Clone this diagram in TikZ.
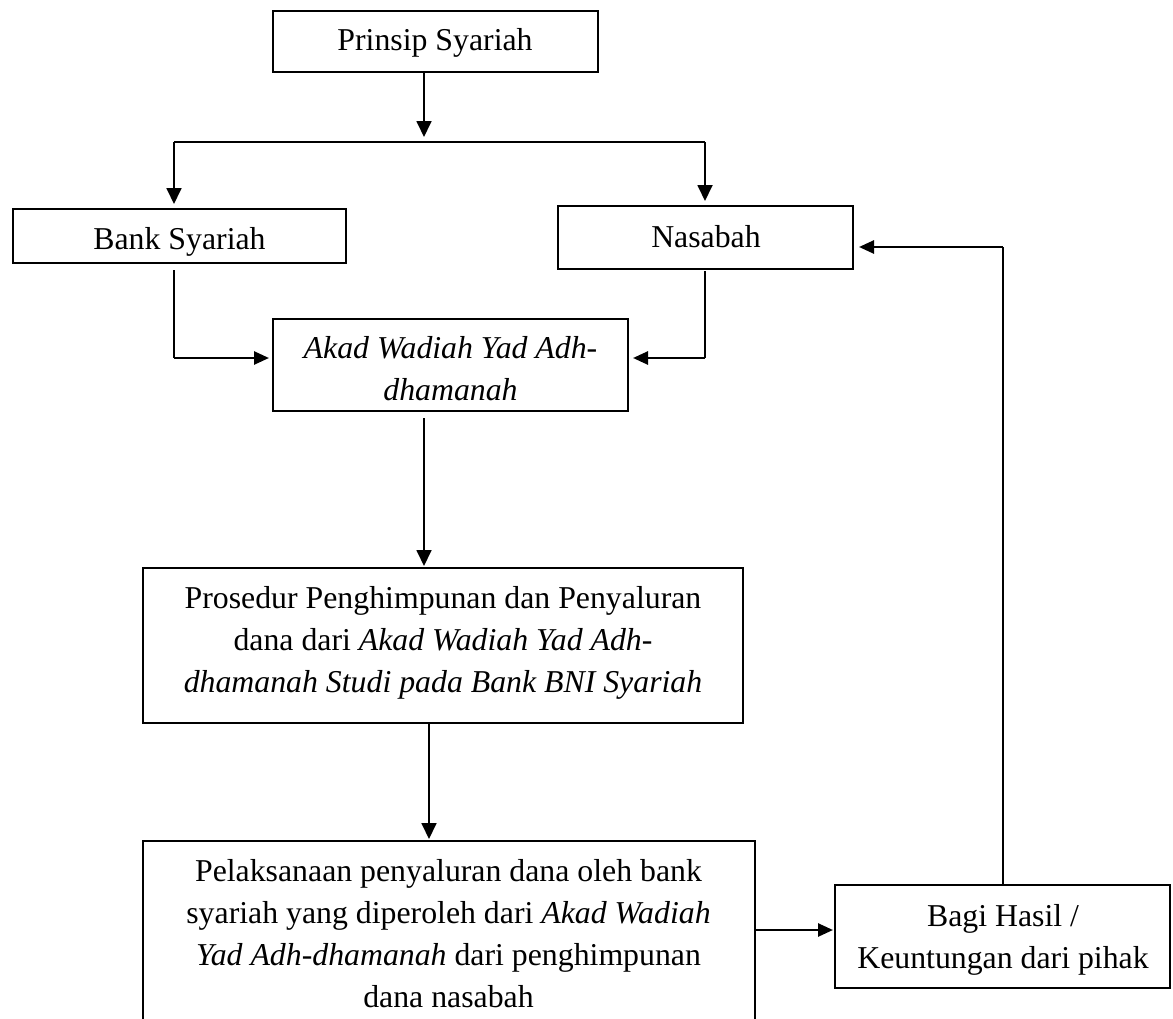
\documentclass[tikz,border=0pt]{standalone}
\usepackage{fontspec}
\setmainfont{Liberation Serif}
\usetikzlibrary{arrows.meta}
\tikzset{
  boxnode/.style={draw, line width=2pt, inner sep=0pt, rectangle},
  txt/.style={font=\fontsize{31.8pt}{42pt}\selectfont, align=center, inner sep=0pt, anchor=base},
  conn/.style={line width=1.8pt},
  hconn/.style={line width=2.6pt},
  vtip/.style={-{Triangle[length=16pt,width=15pt]}},
  htip/.style={-{Triangle[length=15pt,width=13pt]}}
}
\begin{document}
\begin{tikzpicture}[x=1pt,y=-1pt]
\fill[white] (0,0) rectangle (1173,1018);
\useasboundingbox (0,0) rectangle (1173,1018);
\clip (0,0) rectangle (1173,1018);
% boxes
\node[boxnode, minimum width=325pt, minimum height=61pt] (prinsip) at (435.5,41.5) {};
\node[boxnode, minimum width=333pt, minimum height=54pt] (bank) at (179.5,236) {};
\node[boxnode, minimum width=295pt, minimum height=63pt] (nasabah) at (705.5,237.5) {};
\node[boxnode, minimum width=355pt, minimum height=92pt] (akad) at (450.5,365) {};
\node[boxnode, minimum width=600pt, minimum height=155pt] (prosedur) at (443,645.5) {};
\node[boxnode, minimum width=612pt, minimum height=209pt] (pelaksanaan) at (449,945.5) {};
\node[boxnode, minimum width=335pt, minimum height=103pt] (bagi) at (1002.5,936.5) {};
% texts (anchor base = baseline of the last line)
\node[txt] (prinsipT) at (435,50) {Prinsip Syariah};
\node[txt] (bankT) at (179.5,249) {Bank Syariah};
\node[txt] (nasabahT) at (706,247) {Nasabah};
\node[txt] (akadT) at (450.5,400) {\textit{Akad Wadiah Yad Adh-}\\\textit{dhamanah}};
\node[txt] (prosedurT) at (443,692) {Prosedur Penghimpunan dan Penyaluran\\dana dari \textit{Akad Wadiah Yad Adh-}\\\textit{dhamanah Studi pada Bank BNI Syariah}};
\node[txt] (pelaksanaanT) at (448.5,1007) {Pelaksanaan penyaluran dana oleh bank\\syariah yang diperoleh dari \textit{Akad Wadiah}\\\textit{Yad Adh-dhamanah} dari penghimpunan\\dana nasabah};
\node[txt] (bagiT) at (1003,968) {Bagi Hasil /\\Keuntungan dari pihak};
% helper coordinates
\coordinate (split) at (424,142);
\coordinate (bl) at (174,142);
\coordinate (br) at (705,142);
\coordinate (jl) at (174,358);
\coordinate (jr) at (705,358);
\coordinate (pb) at (800,930);
\coordinate (fb) at (1003,247);
% connectors
\draw[conn, vtip, shorten >=5pt] (split |- prinsip.south) -- (split);
\draw[conn] (bl) -- (br);
\draw[conn, vtip, shorten >=4pt] (bl) -- (bl |- bank.north);
\draw[conn, vtip, shorten >=4pt] (br) -- (br |- nasabah.north);
\draw[conn, shorten <=6pt] (jl |- bank.south) -- (jl);
\draw[hconn, htip, shorten >=3pt] (jl) -- (jl -| akad.west);
\draw[conn, shorten <=1pt] (jr |- nasabah.south) -- (jr);
\draw[hconn, htip, shorten >=4pt] (jr) -- (jr -| akad.east);
\draw[conn, vtip, shorten <=6pt, shorten >=1pt] (424,0 |- akad.south) -- (424,0 |- prosedur.north);
\draw[conn, vtip, shorten >=1pt] (429,0 |- prosedur.south) -- (429,0 |- pelaksanaan.north);
\draw[hconn, htip, shorten >=1pt] (pb -| pelaksanaan.east) -- (pb -| bagi.west);
\draw[conn] (fb |- bagi.north) -- (fb);
\draw[hconn, htip, shorten >=5pt] (fb) -- (fb -| nasabah.east);
\end{tikzpicture}
\end{document}
